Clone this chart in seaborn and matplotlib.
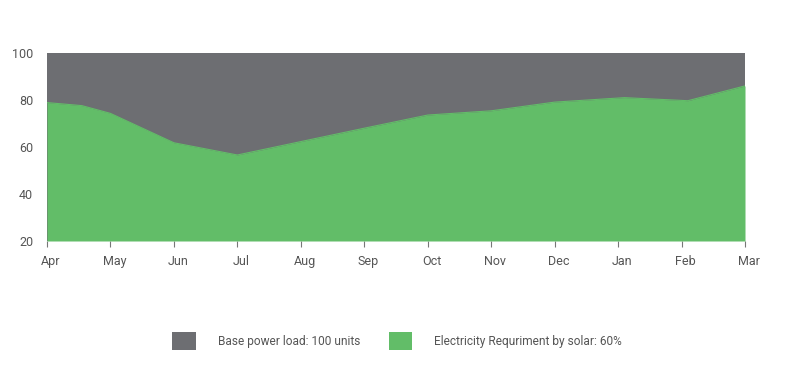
import matplotlib
matplotlib.use("Agg")
import matplotlib.pyplot as plt
from matplotlib.patches import Patch
import matplotlib.transforms as mtransforms
import seaborn as sns
import pandas as pd

months = ["Apr", "May", "Jun", "Jul", "Aug", "Sep", "Oct", "Nov", "Dec", "Jan", "Feb", "Mar"]
pos = [0, 0.55, 1, 2, 3, 4, 5, 6, 7, 8, 9.1, 10.1, 11]
solar = [78.9, 77.6, 74.3, 61.8, 56.6, 62.3, 68.0, 73.6, 75.4, 79.1, 81.0, 79.7, 86.0]
base = [100] * len(pos)
y_ticks = [20, 40, 60, 80, 100]
labels = ["Base power load: 100 units", "Electricity Requriment by solar: 60%"]

gray = "#6d6e72"
green = "#62bd68"
text_color = "#555555"

sns.set_style("white")
plt.rcParams["font.family"] = ["Roboto", "DejaVu Sans"]

df = pd.DataFrame({"x": pos, "solar": solar, "base": base})

fig = plt.figure(figsize=(8.06, 3.83), dpi=100)
ax = fig.add_axes([47 / 806, 1 - 241 / 383, (745 - 47) / 806, (241 - 53) / 383])

ax.fill_between(df["x"], 20, df["base"], color=gray, linewidth=0)
ax.fill_between(df["x"], 20, df["solar"], color=green, linewidth=0)
sns.lineplot(data=df, x="x", y="solar", ax=ax, color=green, linewidth=0.8)

ax.set_xlim(0, 11)
ax.set_ylim(20, 100)
ax.set_xticks(range(len(months)))
ax.set_xticklabels(months)
ax.set_yticks(y_ticks)
ax.set_xlabel("")
ax.set_ylabel("")
for s in ax.spines.values():
    s.set_visible(False)
ax.tick_params(axis="x", length=4, width=0.8, color="#777777", pad=6, labelsize=9, labelcolor=text_color, bottom=True)
ax.tick_params(axis="y", length=0, pad=10, labelsize=9, labelcolor=text_color)

shift = mtransforms.ScaledTranslation(4 / 100, 0, fig.dpi_scale_trans)
for lab in ax.get_xticklabels():
    lab.set_transform(lab.get_transform() + shift)

handles = [Patch(facecolor=gray, edgecolor="none"), Patch(facecolor=green, edgecolor="none")]
leg = fig.legend(handles, labels, loc="center", bbox_to_anchor=(397 / 806, 1 - 341 / 383),
                 ncol=2, frameon=False, fontsize=8.6, handlelength=1.95, handleheight=1.95,
                 handletextpad=1.85, columnspacing=2.4)
for t in leg.get_texts():
    t.set_color(text_color)

fig.savefig("out.png", dpi=100)
